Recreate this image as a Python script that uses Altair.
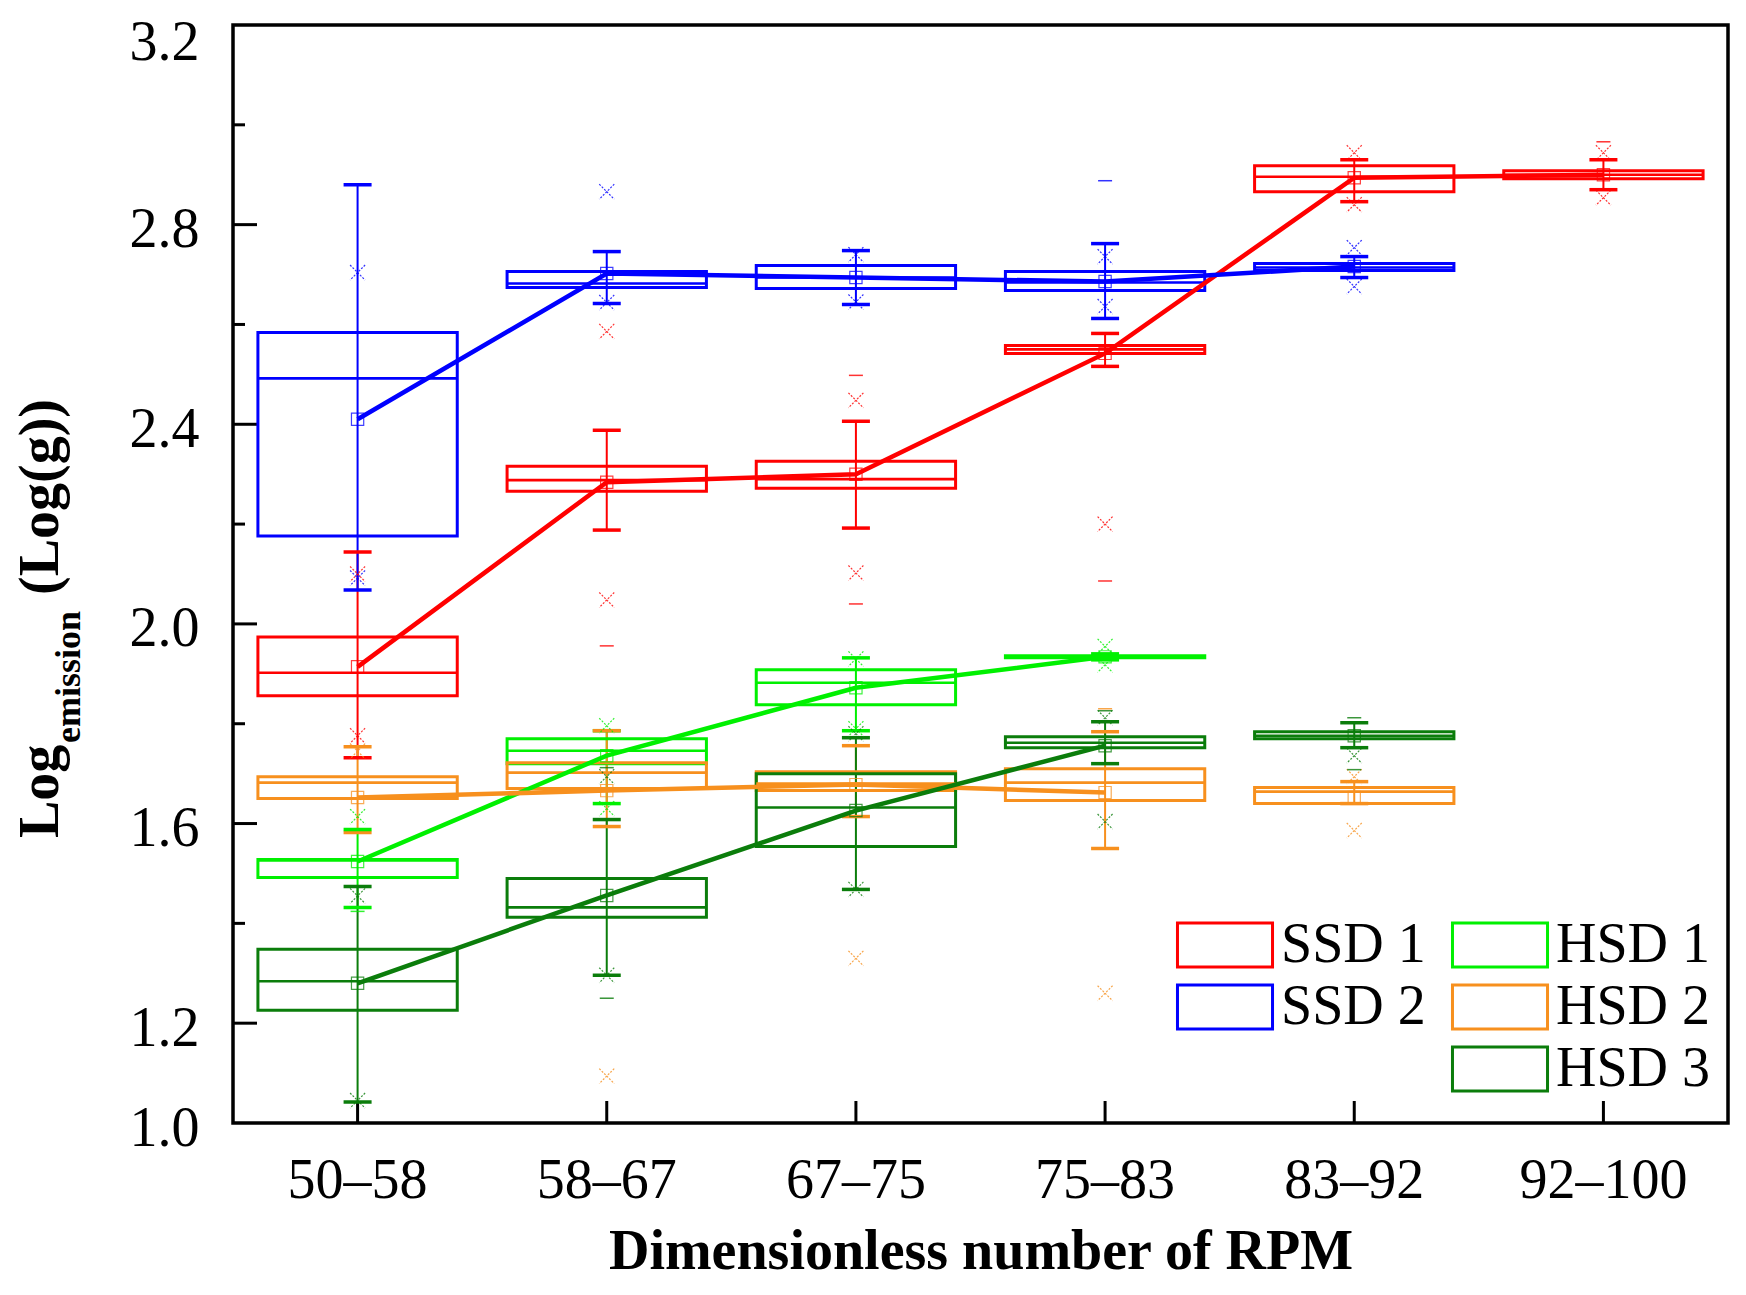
import altair as alt
import pandas as pd

categories = ["50–58", "58–67", "67–75", "75–83", "83–92", "92–100"]
series = ["SSD 1", "SSD 2", "HSD 1", "HSD 2", "HSD 3"]
colors = ["#ff0000", "#0000ff", "#00f000", "#f7901e", "#0b7d0b"]

# box statistics per series (None = no box)
ssd1_low = [1.732, 2.188, 2.192, 2.516, 2.846, 2.870]
ssd1_q1 = [1.856, 2.266, 2.272, 2.542, 2.866, 2.892]
ssd1_med = [1.902, 2.288, 2.290, 2.550, 2.896, 2.900]
ssd1_q3 = [1.974, 2.316, 2.326, 2.558, 2.918, 2.908]
ssd1_high = [2.144, 2.388, 2.406, 2.582, 2.930, 2.930]
ssd1_mean = [1.914, 2.284, 2.300, 2.542, 2.894, 2.900]

ssd2_low = [2.068, 2.642, 2.640, 2.612, 2.694, None]
ssd2_q1 = [2.176, 2.674, 2.672, 2.668, 2.708, None]
ssd2_med = [2.492, 2.682, 2.694, 2.684, 2.714, None]
ssd2_q3 = [2.584, 2.706, 2.718, 2.706, 2.722, None]
ssd2_high = [2.880, 2.746, 2.748, 2.762, 2.736, None]
ssd2_mean = [2.410, 2.702, 2.694, 2.686, 2.716, None]

hsd1_low = [1.432, 1.640, 1.786, 1.928, None, None]
hsd1_q1 = [1.492, 1.720, 1.838, 1.932, None, None]
hsd1_med = [1.526, 1.746, 1.882, 1.934, None, None]
hsd1_q3 = [1.528, 1.770, 1.908, 1.936, None, None]
hsd1_high = [1.588, 1.786, 1.932, 1.940, None, None]
hsd1_mean = [1.524, 1.736, 1.872, 1.934, None, None]

hsd2_low = [1.582, 1.594, 1.614, 1.550, 1.640, None]
hsd2_q1 = [1.650, 1.670, 1.666, 1.646, 1.640, None]
hsd2_med = [1.682, 1.702, 1.680, 1.682, 1.664, None]
hsd2_q3 = [1.694, 1.722, 1.704, 1.710, 1.672, None]
hsd2_high = [1.754, 1.786, 1.756, 1.784, 1.684, None]
hsd2_mean = [1.652, 1.666, 1.678, 1.662, 1.652, None]

hsd3_low = [1.042, 1.296, 1.468, 1.720, 1.752, None]
hsd3_q1 = [1.226, 1.412, 1.554, 1.752, 1.770, None]
hsd3_med = [1.284, 1.432, 1.632, 1.762, 1.776, None]
hsd3_q3 = [1.348, 1.490, 1.700, 1.774, 1.784, None]
hsd3_high = [1.474, 1.608, 1.772, 1.804, 1.802, None]
hsd3_mean = [1.280, 1.456, 1.626, 1.756, 1.776, None]

# number of leading categories joined by the mean line
line_count = [6, 5, 4, 4, 4]

# 1%/99% markers (x) and min/max markers (dash)
ssd1_x = [[1.776, 2.100], [2.048, 2.586], [2.102, 2.448], [2.200], [2.840, 2.944], [2.854, 2.944]]
ssd1_dash = [[], [1.956], [2.040, 2.498], [2.086], [], [2.966]]
ssd2_x = [[2.092, 2.704], [2.644, 2.866], [2.645, 2.740], [2.636, 2.736], [2.676, 2.754], []]
ssd2_dash = [[], [], [], [2.888], [], []]
hsd1_x = [[1.614], [1.630, 1.796], [1.790, 1.930], [1.918, 1.955], [], []]
hsd1_dash = [[1.424], [], [], [], [], []]
hsd2_x = [[1.745], [1.094], [1.330], [1.260], [1.586, 1.694], []]
hsd2_dash = [[], [], [], [1.830], [], []]
hsd3_x = [[1.045, 1.455], [1.296, 1.694], [1.468, 1.780], [1.604, 1.812], [1.736], []]
hsd3_dash = [[], [1.250, 1.712], [], [1.826], [1.708, 1.812], []]

y_major = [1.2, 1.6, 2.0, 2.4, 2.8]
y_minor = [1.4, 1.8, 2.2, 2.6, 3.0]
y_labels = [1.0, 1.2, 1.6, 2.0, 2.4, 2.8, 3.2]

stats = {
    "SSD 1": (ssd1_low, ssd1_q1, ssd1_med, ssd1_q3, ssd1_high, ssd1_mean, ssd1_x, ssd1_dash),
    "SSD 2": (ssd2_low, ssd2_q1, ssd2_med, ssd2_q3, ssd2_high, ssd2_mean, ssd2_x, ssd2_dash),
    "HSD 1": (hsd1_low, hsd1_q1, hsd1_med, hsd1_q3, hsd1_high, hsd1_mean, hsd1_x, hsd1_dash),
    "HSD 2": (hsd2_low, hsd2_q1, hsd2_med, hsd2_q3, hsd2_high, hsd2_mean, hsd2_x, hsd2_dash),
    "HSD 3": (hsd3_low, hsd3_q1, hsd3_med, hsd3_q3, hsd3_high, hsd3_mean, hsd3_x, hsd3_dash),
}

box_rows, line_rows, x_rows, dash_rows = [], [], [], []
for si, s in enumerate(series):
    low, q1, med, q3, high, mean, xs, dashes = stats[s]
    for ci, c in enumerate(categories):
        if med[ci] is not None:
            box_rows.append(dict(series=s, cat=c, low=low[ci], q1=q1[ci], med=med[ci],
                                 q3=q3[ci], high=high[ci], mean=mean[ci]))
            if ci < line_count[si]:
                line_rows.append(dict(series=s, cat=c, mean=mean[ci]))
        for v in xs[ci]:
            x_rows.append(dict(series=s, cat=c, v=v))
        for v in dashes[ci]:
            dash_rows.append(dict(series=s, cat=c, v=v))

box_df = pd.DataFrame(box_rows)
line_df = pd.DataFrame(line_rows)
x_df = pd.DataFrame(x_rows)
dash_df = pd.DataFrame(dash_rows)
major_df = pd.DataFrame({"mj": y_major})
minor_df = pd.DataFrame({"mn": y_minor})

FONT = "Liberation Serif"
W, H = 1495, 1098

xscale = alt.Scale(type="band", domain=categories, paddingInner=0.2, paddingOuter=0.1)
xaxis = alt.Axis(title="Dimensionless number of RPM", labelFont=FONT, labelFontSize=56,
                 labelColor="black", labelAngle=0, labelPadding=30, tickSize=0, domain=False,
                 grid=False, titleFont=FONT, titleFontSize=56, titleFontWeight="bold",
                 titleColor="black", titlePadding=16)
yscale = alt.Scale(domain=[1.0, 3.2], nice=False, zero=False)
yaxis = alt.Axis(values=y_labels, format=".1f", labelFont=FONT, labelFontSize=56,
                 labelColor="black", labelPadding=34,
                 labelOffset={"condition": {"test": "datum.value >= 3.2", "value": 17}, "value": 5},
                 tickSize=0, domain=False, grid=False, title=None)


def X():
    return alt.X("cat:N", scale=xscale, sort=categories, axis=xaxis)


def Y(field):
    return alt.Y(field, scale=yscale, axis=yaxis)


cenc = alt.Color("series:N", scale=alt.Scale(domain=series, range=colors), legend=None)

base = alt.Chart(box_df)
whisker = base.mark_rule(strokeWidth=2).encode(x=X(), y=Y("low:Q"), y2="high:Q", color=cenc)
box = base.mark_bar(filled=False, strokeWidth=3).encode(x=X(), y=Y("q1:Q"), y2="q3:Q", color=cenc)
median = base.mark_bar(filled=False, strokeWidth=2.6).encode(x=X(), y=Y("med:Q"), y2="med:Q", color=cenc)
cap_lo = base.mark_tick(orient="horizontal", size=28, thickness=3.5, opacity=1).encode(
    x=X(), y=Y("low:Q"), color=cenc)
cap_hi = base.mark_tick(orient="horizontal", size=28, thickness=3.5, opacity=1).encode(
    x=X(), y=Y("high:Q"), color=cenc)
mean_line = alt.Chart(line_df).mark_line(strokeWidth=4.5).encode(
    x=X(), y=Y("mean:Q"), color=cenc, detail="series:N")
mean_pt = base.mark_point(shape="square", size=150, filled=False, strokeWidth=1.2, opacity=0.75).encode(
    x=X(), y=Y("mean:Q"), color=cenc)
xmark = alt.Chart(x_df).mark_point(shape="M-1,-1L1,1M1,-1L-1,1", size=225, filled=False,
                                   strokeWidth=1.2, strokeDash=[2, 1.5], opacity=0.8).encode(
    x=X(), y=Y("v:Q"), color=cenc)
dmark = alt.Chart(dash_df).mark_point(shape="M-1,0L1,0", size=196, filled=False,
                                      strokeWidth=1.5, opacity=0.8).encode(
    x=X(), y=Y("v:Q"), color=cenc)

# inward axis ticks
minor = alt.Chart(minor_df).mark_tick(orient="horizontal", size=12, thickness=3,
                                      color="black", opacity=1).encode(
    y=Y("mn:Q"), x=alt.value(6))
major = alt.Chart(major_df).mark_tick(orient="horizontal", size=24, thickness=3,
                                      color="black", opacity=1).encode(
    y=Y("mj:Q"), x=alt.value(12))
xticks = alt.Chart(pd.DataFrame({"cat": categories})).mark_rule(color="black", strokeWidth=3).encode(
    x=X(), y=alt.value(H), y2=alt.value(H - 22))

one = pd.DataFrame({"a": [0]})
t1 = alt.Chart(one).mark_text(angle=270, align="left", baseline="alphabetic", font=FONT,
                              fontSize=56, fontWeight="bold", color="black").encode(
    x=alt.value(-175), y=alt.value(813), text=alt.value("Log"))
t2 = alt.Chart(one).mark_text(angle=270, align="left", baseline="alphabetic", font=FONT,
                              fontSize=36, fontWeight="bold", color="black").encode(
    x=alt.value(-153), y=alt.value(718), text=alt.value("emission"))
t3 = alt.Chart(one).mark_text(angle=270, align="left", baseline="alphabetic", font=FONT,
                              fontSize=56, fontWeight="bold", color="black").encode(
    x=alt.value(-175), y=alt.value(570), text=alt.value("(Log(g))"))

RECT = "M-2.16,-1L2.16,-1L2.16,1L-2.16,1Z"


def legend_layer(names, cols, lx):
    return alt.Chart(pd.DataFrame({"series": names})).mark_point(size=0, filled=False, opacity=1).encode(
        x=alt.value(0), y=alt.value(0),
        stroke=alt.Stroke("series:N", scale=alt.Scale(domain=names, range=cols),
                          legend=alt.Legend(orient="none", legendX=lx, legendY=892, title=None,
                                            symbolType=RECT, symbolSize=1936, symbolStrokeWidth=3,
                                            symbolFillColor="transparent",
                                            labelFont=FONT, labelFontSize=56, labelColor="black",
                                            labelOffset=28, rowPadding=6, padding=0,
                                            labelLimit=400)))


leg1 = legend_layer(["SSD 1", "SSD 2"], ["#ff0000", "#0000ff"], 964)
leg2 = legend_layer(["HSD 1", "HSD 2", "HSD 3"], ["#00f000", "#f7901e", "#0b7d0b"], 1239)

chart = alt.layer(
    minor, major, xticks,
    whisker, box, median, cap_lo, cap_hi, mean_line, mean_pt, xmark, dmark,
    t1, t2, t3, leg1, leg2
).resolve_scale(stroke="independent").properties(
    width=W, height=H, background="white",
    padding={"left": 225, "top": 17, "right": 10, "bottom": 164},
    autosize=alt.AutoSizeParams(type="none"),
).configure_view(stroke="black", strokeWidth=3.5)

chart.save("out.html", embed_options={"renderer": "svg", "actions": False})
